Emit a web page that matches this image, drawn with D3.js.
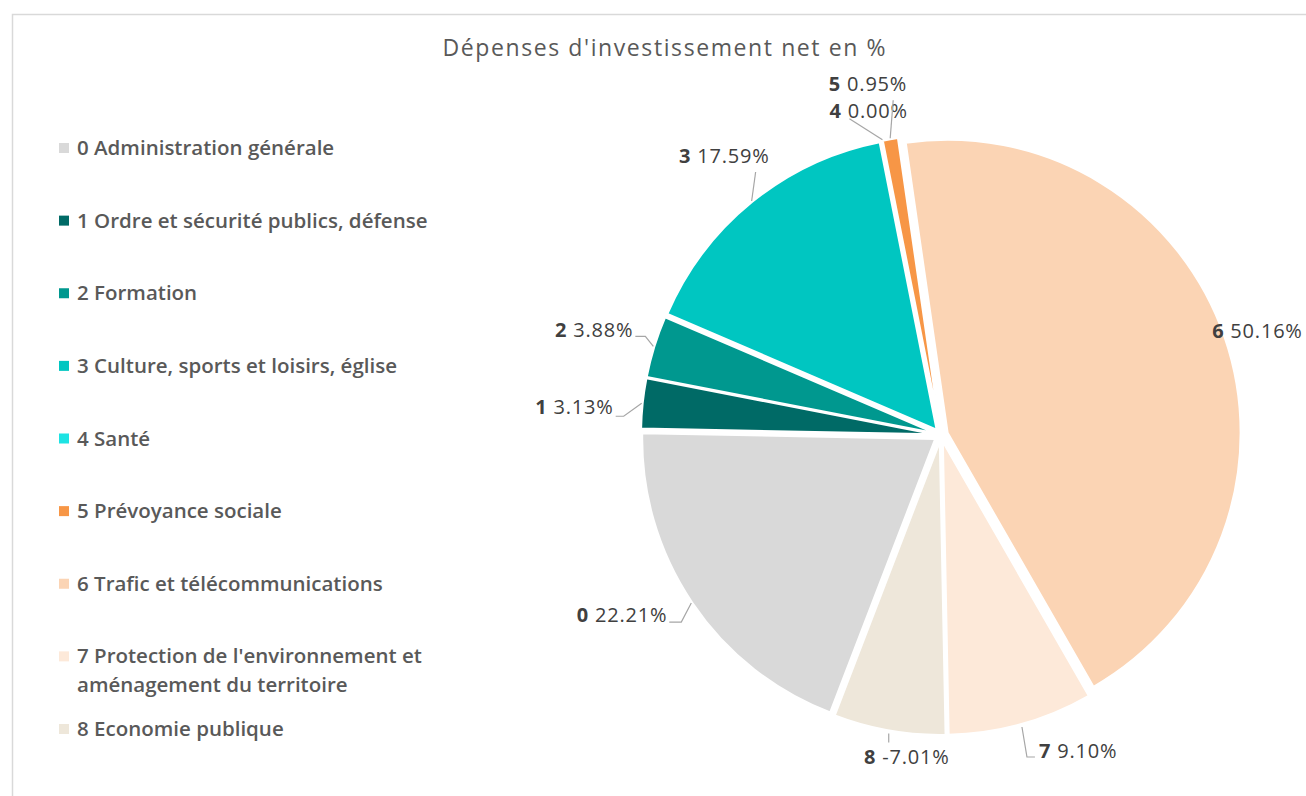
<!DOCTYPE html>
<html>
<head>
<meta charset="utf-8">
<title>Dépenses d'investissement net en %</title>
<style>
  body { margin: 0; background: #fff; }
  svg { display: block; font-family: "Open Sans", "Noto Sans", sans-serif; }
  .legend text { fill: #595959; font-weight: 600; font-size: 20.5px; }
  .lbl { fill: #404040; font-size: 20px; letter-spacing: 0.8px; }
  .lbl .code { font-weight: 700; }
  .leader { fill: none; stroke: #a6a6a6; stroke-width: 1.2; }
</style>
</head>
<body>
<svg id="chart" width="1306" height="796"></svg>

<script src="https://d3js.org/d3.v7.min.js"></script>
<script>

// data
var codes = ["0", "1", "2", "3", "4", "5", "6", "7", "8"];
var names = [
    "Administration générale",
    "Ordre et sécurité publics, défense",
    "Formation",
    "Culture, sports et loisirs, église",
    "Santé",
    "Prévoyance sociale",
    "Trafic et télécommunications",
    "Protection de l'environnement et\naménagement du territoire",
    "Economie publique"
];
var values = [22.21, 3.13, 3.88, 17.59, 0.00, 0.95, 50.16, 9.10, -7.01];
var colors = ["#d9d9d9", "#006a66", "#00988f", "#00c6c1", "#1de3e3",
              "#f79646", "#fbd4b4", "#fde9d9", "#eee7da"];

// label placement tweaks (leader start radius offset, elbow, tail, text offset)
var labelLayout = [
    {r: 1,   elbow: [-10, 19], tail: -12, text: [-2, 0],   anchor: "end"},
    {r: 1,   elbow: [-18, 13], tail: -8,  text: [-2, -2],  anchor: "end"},
    {r: 1,   elbow: [-8, -10], tail: -10, text: [-2, 1],   anchor: "end"},
    {r: 1,   elbow: [4, -29],  tail: 0,   text: [14, -9],  anchor: "end"},
    {r: 1,   elbow: [-33, -21],tail: 0,   text: [-20, -1], anchor: "start"},
    {r: 1,   elbow: [3, -38],  tail: 0,   text: [14, -9],  anchor: "end"},
    {r: -10, elbow: null,      tail: 0,   text: [-3, -2],  anchor: "start"},
    {r: 3,   elbow: [5, 30],   tail: 8,   text: [4, 1],    anchor: "start"},
    {r: 3,   elbow: [0, 9],    tail: 0,   text: [18, 22],  anchor: "middle"}
];

var svg = d3.select("#chart");
var width = 1306, height = 796;

// frame
svg.append("path")
    .attr("d", "M12.5," + height + "V14.5H" + width)
    .attr("fill", "none")
    .attr("stroke", "#d9d9d9")
    .attr("stroke-width", 1.5);

// title
svg.append("text")
    .attr("x", 664)
    .attr("y", 56)
    .attr("text-anchor", "middle")
    .attr("fill", "#595959")
    .style("font-size", "23px")
    .attr("textLength", 443)
    .attr("lengthAdjust", "spacing")
    .text("Dépenses d'investissement net en %");

// legend
var legend = svg.append("g").attr("class", "legend");
var legendY = d3.scaleLinear().domain([0, 8]).range([155, 736]);

codes.forEach(function(c, i) {
    var y = legendY(i);
    legend.append("rect")
        .attr("x", 59).attr("y", y - 12)
        .attr("width", 10).attr("height", 10)
        .attr("fill", colors[i]);
    var lines = (c + " " + names[i]).split("\n");
    var t = legend.append("text").attr("x", 77).attr("y", y);
    lines.forEach(function(l, j) {
        t.append("tspan").attr("x", 77).attr("dy", j == 0 ? 0 : 29).text(l);
    });
});

// pie
var cx = 941, cy = 435, R = 293, explode = 7;
var a0 = 201 * Math.PI / 180;

var pie = d3.pie()
    .sort(null)
    .value(function(d) { return Math.abs(d); })
    .startAngle(a0)
    .endAngle(a0 + 2 * Math.PI);

var arc = d3.arc().innerRadius(0).outerRadius(R);
var arcs = pie(values);

function mid(d) { return (d.startAngle + d.endAngle) / 2; }
function offset(d) {
    var m = mid(d);
    return [explode * Math.sin(m), -explode * Math.cos(m)];
}
function point(d, r) {
    var m = mid(d), o = offset(d);
    return [cx + o[0] + r * Math.sin(m), cy + o[1] - r * Math.cos(m)];
}

var slices = svg.append("g").attr("class", "slices");
slices.selectAll("path")
    .data(arcs)
    .enter().append("path")
    .attr("transform", function(d) {
        var o = offset(d);
        return "translate(" + (cx + o[0]) + "," + (cy + o[1]) + ")";
    })
    .attr("d", arc)
    .attr("fill", function(d, i) { return colors[i]; })
    .attr("stroke", "#fff")
    .attr("stroke-width", 2)
    .attr("stroke-linejoin", "round");

// data labels with leader lines
var labels = svg.append("g").attr("class", "labels");
arcs.forEach(function(d, i) {
    var L = labelLayout[i];
    var p = point(d, R + L.r);
    var end = p;
    if (L.elbow) {
        var e = [p[0] + L.elbow[0], p[1] + L.elbow[1]];
        end = [e[0] + L.tail, e[1]];
        labels.append("path")
            .attr("class", "leader")
            .attr("d", d3.line()([p, e, end]));
    }
    var t = labels.append("text")
        .attr("class", "lbl")
        .attr("x", end[0] + L.text[0])
        .attr("y", end[1] + L.text[1])
        .attr("text-anchor", L.anchor);
    t.append("tspan").attr("class", "code").text(codes[i]);
    t.append("tspan").text(" " + values[i].toFixed(2) + "%");
});

</script>
</body>
</html>
